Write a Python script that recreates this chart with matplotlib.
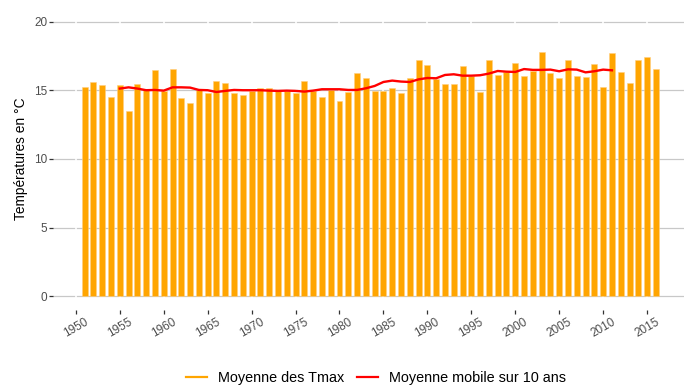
import matplotlib
matplotlib.use("Agg")
import matplotlib.pyplot as plt
from matplotlib.lines import Line2D

plt.rcParams['font.family'] = ['Liberation Sans', 'DejaVu Sans']

# annual mean of daily maximum temperatures (°C)
years = list(range(1951, 2017))
tmax = [15.24, 15.58, 15.38, 14.51, 15.38, 13.49, 15.46, 15.00, 16.45, 14.95,
        16.57, 14.46, 14.05, 15.05, 14.83, 15.68, 15.51, 14.78, 14.63, 14.95,
        15.17, 15.17, 14.95, 14.95, 14.80, 15.65, 14.95, 14.53, 15.00, 14.19,
        14.88, 16.28, 15.87, 14.95, 14.93, 15.14, 14.83, 15.92, 17.18, 16.84,
        15.82, 15.43, 15.46, 16.79, 16.01, 14.87, 17.18, 16.14, 16.33, 16.96,
        16.01, 16.38, 17.79, 16.23, 15.92, 17.23, 16.04, 15.99, 16.91, 15.26,
        17.71, 16.33, 15.53, 17.20, 17.40, 16.55]

# 10-year moving average
roll_years = list(range(1955, 2012))
roll_mean = [15.12, 15.21, 15.12, 15.00, 15.02, 14.97, 15.21, 15.21, 15.19, 15.02,
             15.00, 14.87, 14.95, 15.02, 15.00, 15.00, 15.00, 14.97, 14.95, 14.97,
             14.95, 14.90, 14.97, 15.07, 15.07, 15.07, 15.02, 15.02, 15.14, 15.31,
             15.60, 15.70, 15.63, 15.60, 15.79, 15.89, 15.87, 16.11, 16.16, 16.06,
             16.06, 16.09, 16.21, 16.40, 16.35, 16.33, 16.54, 16.48, 16.48, 16.50,
             16.38, 16.52, 16.50, 16.30, 16.38, 16.50, 16.45]

x_ticks = list(range(1950, 2016, 5))
y_ticks = [0, 5, 10, 15, 20]

bar_color = "#FFA500"
line_color = "#FF0000"

fig = plt.figure(figsize=(6.84, 3.85), dpi=100)
ax = fig.add_axes([53 / 684, 1 - 310 / 385, 631 / 684, (310 - 7.8) / 385])

ax.bar(years, tmax, width=0.68, color=bar_color, edgecolor="#FFCF80",
       linewidth=0.4, zorder=3)
ax.plot(roll_years, roll_mean, color=line_color, linewidth=1.7, zorder=4)

ax.set_xlim(1947.4, 2019.2)
ax.set_ylim(-1, 21)
ax.set_xticks(x_ticks)
ax.set_yticks(y_ticks)
ax.set_xticklabels([str(y) for y in x_ticks], rotation=30, ha="center",
                   va="top", fontsize=8.5, color="#4D4D4D")
ax.set_yticklabels([str(v) for v in y_ticks], fontsize=8.5, color="#4D4D4D")
ax.tick_params(axis="both", length=2.6, width=0.9, color="#333333", pad=1.5)

# horizontal grey grid, broken by white vertical lines at the year ticks
for v in y_ticks:
    ax.axhline(v, color="#C8C8C8", linewidth=0.9, zorder=1)
for yr in x_ticks:
    ax.axvline(yr, color="white", linewidth=1.2, zorder=2)

for side in ["top", "right", "left", "bottom"]:
    ax.spines[side].set_visible(False)

ax.set_ylabel("Températures en °C", fontsize=9.9, color="black", labelpad=4)

handles = [Line2D([0], [0], color=bar_color, linewidth=1.6),
           Line2D([0], [0], color=line_color, linewidth=1.6)]
fig.legend(handles, ["Moyenne des Tmax", "Moyenne mobile sur 10 ans"],
           loc="center", bbox_to_anchor=(0.55, 1 - 378 / 385), ncol=2,
           frameon=False, fontsize=10.4, handlelength=1.45,
           handletextpad=0.75, columnspacing=0.9)

fig.savefig("out.png", dpi=100)
